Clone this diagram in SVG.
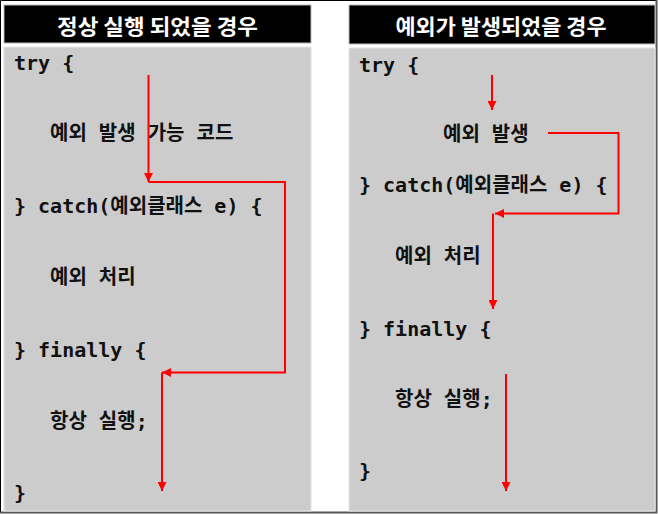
<svg xmlns="http://www.w3.org/2000/svg" width="658" height="514" viewBox="0 0 658 514">
  <style>
    .title-bg { fill: #000000; stroke: #bbbbbb; stroke-width: 1; }
    .panel-bg { fill: #cccccc; stroke: #e4e4e4; stroke-width: 1; }
    .title { font-family: "Noto Sans CJK KR", "Noto Sans", sans-serif; font-weight: bold; font-size: 21px; fill: #ffffff; text-anchor: middle; }
    .code { font-family: "DejaVu Sans Mono", "Noto Sans CJK KR", monospace; font-weight: bold; font-size: 20px; fill: #111111; white-space: pre; }
    .flow { fill: none; stroke: #ff0000; stroke-width: 2; }
  </style>
  <defs>
    <marker id="arrow" viewBox="0 0 10 10" refX="10" refY="5" markerWidth="9" markerHeight="9" markerUnits="userSpaceOnUse" orient="auto">
      <path d="M0,0 L10,5 L0,10 z" fill="#ff0000"/>
    </marker>
  </defs>

  <rect x="0" y="0" width="658" height="514" fill="#ffffff"/>
  <path d="M0.5,513 L0.5,0.5 L656,0.5" fill="none" stroke="#000000" stroke-width="1"/>
  <path d="M656.5,0 L656.5,512.5 L0,512.5" fill="none" stroke="#555555" stroke-width="2"/>

  <g id="panel-normal">
    <g id="title-normal">
      <rect class="title-bg" x="4" y="5" width="307" height="38"/>
      <text class="title" x="157.5" y="34" textLength="201" lengthAdjust="spacingAndGlyphs">정상 실행 되었을 경우</text>
    </g>
    <rect class="panel-bg" x="4" y="47" width="307" height="464"/>
    <g id="normal-code">
      <text class="code" x="14" y="70">try {</text>
      <text class="code" x="50" y="140">예외 발생 가능 코드</text>
      <text class="code" x="14" y="213">} catch(예외클래스 e) {</text>
      <text class="code" x="50" y="284">예외 처리</text>
      <text class="code" x="14" y="357">} finally {</text>
      <text class="code" x="50" y="428">항상 실행;</text>
      <text class="code" x="14" y="500">}</text>
    </g>
  </g>

  <g id="panel-exception">
    <g id="title-exception">
      <rect class="title-bg" x="349" y="5" width="306" height="39"/>
      <text class="title" x="501" y="34" textLength="211" lengthAdjust="spacingAndGlyphs">예외가 발생되었을 경우</text>
    </g>
    <rect class="panel-bg" x="349" y="48" width="306" height="463"/>
    <g id="exception-code">
      <text class="code" x="359" y="72">try {</text>
      <text class="code" x="443" y="141">예외 발생</text>
      <text class="code" x="359" y="192">} catch(예외클래스 e) {</text>
      <text class="code" x="395" y="263">예외 처리</text>
      <text class="code" x="359" y="336">} finally {</text>
      <text class="code" x="395" y="406">항상 실행;</text>
      <text class="code" x="359" y="478">}</text>
    </g>
  </g>

  <g id="connectors">
    <path class="flow" d="M148.5,75 L148.5,182" marker-end="url(#arrow)"/>
    <path class="flow" d="M148.5,182 L285,182 L285,372.5 L162,372.5" marker-end="url(#arrow)"/>
    <path class="flow" d="M162,372.5 L162,491" marker-end="url(#arrow)"/>

    <path class="flow" d="M492,75 L492,110" marker-end="url(#arrow)"/>
    <path class="flow" d="M548,133 L618.5,133 L618.5,213.5 L495,213.5" marker-end="url(#arrow)"/>
    <path class="flow" d="M493,213.5 L493,309" marker-end="url(#arrow)"/>
    <path class="flow" d="M506,374 L506,491" marker-end="url(#arrow)"/>
  </g>
</svg>
